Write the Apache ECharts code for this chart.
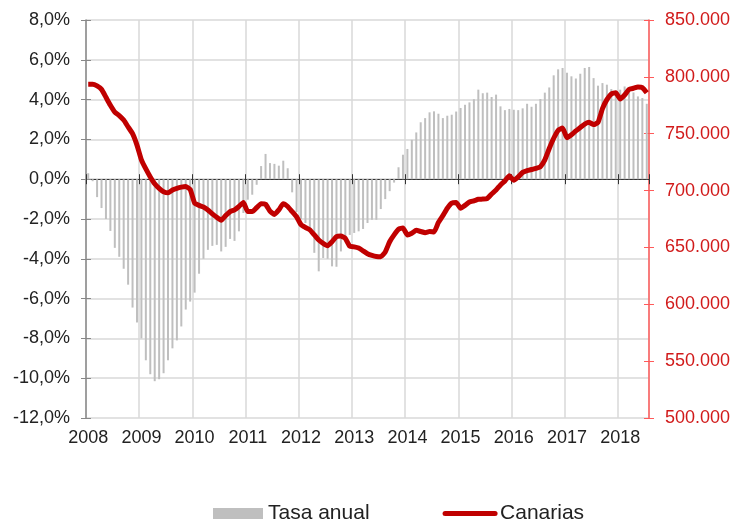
<!DOCTYPE html>
<html lang="es">
<head>
    <meta charset="UTF-8">
    <title>Canarias</title>
    <script src="https://cdn.jsdelivr.net/npm/echarts@6/dist/echarts.min.js"></script>
    <style>
        html, body { margin: 0; padding: 0; background: #fff; }
        #chart { width: 736px; height: 527px; }
    </style>
</head>
<body>
    <div id="chart"></div>
    <script>
        // meses ene-2008 .. jul-2018
        var months = [];
        for (var y = 2008; y <= 2018; y++) {
            for (var m = 1; m <= 12; m++) {
                if (y === 2018 && m > 7) break;
                months.push(y + '-' + (m < 10 ? '0' + m : m));
            }
        }

        // Tasa anual (%)
        var tasa = [
            0.3, -0.1, -0.9, -1.45, -2.0, -2.6, -3.45, -3.9, -4.5, -5.3, -6.45, -7.2,       // 2008
            -8.0, -9.1, -9.8, -10.15, -10.05, -9.75, -9.1, -8.5, -8.1, -7.4, -6.55, -6.15,  // 2009
            -5.7, -4.75, -4.0, -3.55, -3.35, -3.3, -3.63, -3.4, -3.0, -3.1, -2.62, -1.7,    // 2010
            -1.03, -0.78, -0.28, 0.66, 1.27, 0.81, 0.77, 0.68, 0.93, 0.55, -0.66, -1.65,    // 2011
            -2.0, -2.2, -2.5, -3.7, -4.63, -3.96, -4.0, -4.38, -4.4, -3.63, -3.1, -2.8,     // 2012
            -2.7, -2.62, -2.5, -2.2, -2.04, -2.04, -1.5, -1.0, -0.6, -0.17, 0.6, 1.23,      // 2013
            1.52, 1.98, 2.35, 2.86, 3.07, 3.36, 3.41, 3.29, 3.07, 3.19, 3.24, 3.4,          // 2014
            3.58, 3.74, 3.86, 4.02, 4.5, 4.32, 4.35, 4.13, 4.25, 3.66, 3.47, 3.53,          // 2015
            3.49, 3.47, 3.56, 3.79, 3.64, 3.79, 4.03, 4.35, 4.61, 5.22, 5.52, 5.59,         // 2016
            5.35, 5.17, 5.06, 5.3, 5.59, 5.64, 5.08, 4.7, 4.83, 4.75, 4.53, 4.41,           // 2017
            4.5, 4.66, 4.58, 4.36, 4.16, 4.08, 3.79                                         // 2018
        ];

        // Canarias (miles)
        var canarias = [
            793.5, 793.5, 792, 789, 782, 775, 769, 766, 762, 756, 750, 740,
            727, 719, 712, 706, 702, 699, 698, 700.5, 702, 703, 703.5, 701,
            689, 687, 685.5, 683, 679.5, 676.5, 674, 678, 681.5, 683, 686, 689.5,
            681.5, 681.5, 685, 688.5, 688, 682, 679, 683, 688.5, 686, 681.5, 677,
            670, 667.5, 665.5, 661, 656.5, 653.5, 651.5, 655, 659.5, 660, 658, 651,
            650.5, 649.5, 647, 644.5, 643, 642, 641.8, 646, 655, 661, 666, 667,
            661, 662.5, 665, 664, 663, 664, 663.5, 672, 678, 684.5, 689, 689.5,
            684.5, 687, 690, 691, 692.3, 692.5, 693, 697, 700.5, 705, 708.5, 713,
            709, 712, 716, 717.5, 718.5, 719.5, 721, 727, 737, 746, 753, 755,
            746.5, 749, 752.5, 755.5, 758.5, 760, 758, 760, 772, 780, 785, 786,
            780.5, 784, 789, 790, 791, 790.5, 786
        ];

        var font = 'Liberation Sans, Arial, sans-serif';
        var yearTick = function (index) { return index % 12 === 0; };

        // eje x auxiliar sobre el cero (ticks hacia arriba / abajo)
        function zeroAxis(inside) {
            return {
                type: 'category',
                data: months,
                boundaryGap: true,
                axisLine: { show: !inside, onZero: true, onZeroAxisIndex: 0, lineStyle: { color: '#333', width: 1 } },
                axisTick: { show: true, inside: inside, interval: yearTick, length: 5, lineStyle: { color: '#333' } },
                axisLabel: { show: false },
                splitLine: { show: false }
            };
        }

        // eje y auxiliar solo para ticks interiores
        function innerTicks(pos, min, max, interval, color) {
            return {
                type: 'value',
                position: pos,
                min: min,
                max: max,
                interval: interval,
                axisLine: { show: false },
                axisTick: { show: true, inside: true, length: 5, lineStyle: { color: color } },
                axisLabel: { show: false },
                splitLine: { show: false }
            };
        }

        var chart = echarts.init(document.getElementById('chart'));
        chart.setOption({
            animation: false,
            textStyle: { fontFamily: font },
            grid: { left: 86, right: 87, top: 20, bottom: 109 },
            legend: {
                left: 213,
                top: 503,
                padding: 0,
                itemWidth: 50,
                itemHeight: 11,
                itemGap: 73,
                textStyle: { fontSize: 21, color: '#222', fontFamily: font },
                data: [
                    { name: 'Tasa anual', icon: 'rect' },
                    { name: 'Canarias', itemStyle: { opacity: 0 }, lineStyle: { width: 5, cap: 'round' } }
                ]
            },
            xAxis: [{
                type: 'category',
                data: months,
                boundaryGap: true,
                axisLine: { show: false, onZero: false },
                axisTick: { show: false },
                axisLabel: {
                    interval: yearTick,
                    margin: 11,
                    fontSize: 18,
                    color: '#222',
                    formatter: function (v) { return v.slice(0, 4); }
                },
                splitLine: {
                    show: true,
                    interval: yearTick,
                    lineStyle: { color: '#d9d9d9', width: 1.5 }
                }
            }, zeroAxis(false), zeroAxis(true)],
            yAxis: [{
                type: 'value',
                min: -12,
                max: 8,
                interval: 2,
                axisLine: { show: true, lineStyle: { color: '#888', width: 1.5 } },
                axisTick: { show: true, length: 5, lineStyle: { color: '#888' } },
                axisLabel: {
                    margin: 16,
                    fontSize: 18,
                    color: '#222',
                    formatter: function (v) { return v.toFixed(1).replace('.', ',') + '%'; }
                },
                splitLine: { lineStyle: { color: '#d9d9d9', width: 1.5 } }
            }, {
                type: 'value',
                min: 500,
                max: 850,
                interval: 50,
                position: 'right',
                axisLine: { show: true, lineStyle: { color: '#ff5a5a', width: 1.5 } },
                axisTick: { show: true, length: 5, lineStyle: { color: '#ff5a5a' } },
                axisLabel: {
                    margin: 16,
                    fontSize: 18,
                    color: '#d11a1a',
                    formatter: function (v) { return v + '.000'; }
                },
                splitLine: { show: false }
            },
            innerTicks('left', -12, 8, 2, '#888'),
            innerTicks('right', 500, 850, 50, '#ff5a5a')],
            series: [{
                name: 'Tasa anual',
                type: 'bar',
                xAxisIndex: 0,
                yAxisIndex: 0,
                barWidth: 2,
                itemStyle: { color: '#bfbfbf' },
                data: tasa
            }, {
                name: 'Canarias',
                type: 'line',
                xAxisIndex: 0,
                yAxisIndex: 1,
                symbol: 'none',
                smooth: 0.15,
                lineStyle: { color: '#c00000', width: 5 },
                itemStyle: { color: '#c00000' },
                data: canarias
            }]
        });
    </script>
</body>
</html>
